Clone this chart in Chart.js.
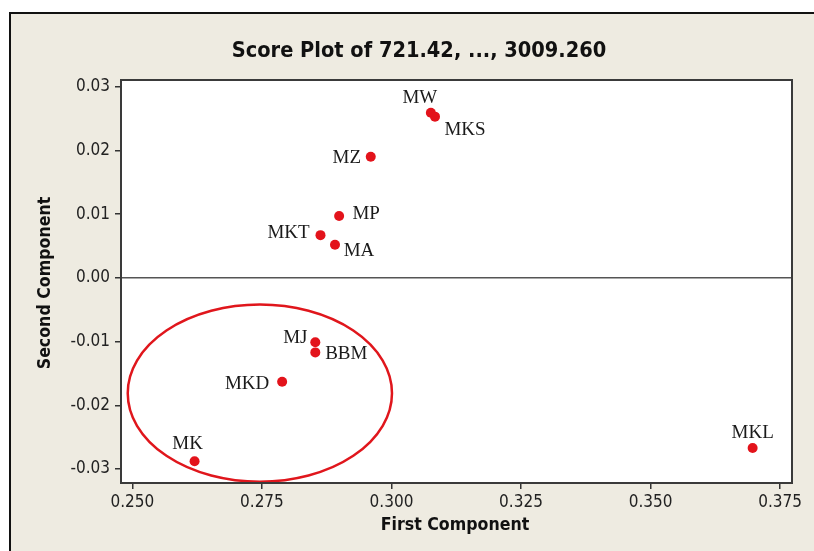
<!DOCTYPE html>
<html>
<head>
<meta charset="UTF-8">
<title>Score Plot</title>
<script src="https://cdn.jsdelivr.net/npm/chart.js"></script>
<style>
  html, body { margin: 0; padding: 0; background: #fff; }
  #wrap { width: 814px; height: 551px; }
</style>
</head>
<body>
<div id="wrap"><canvas id="scorePlot" width="814" height="551"></canvas></div>
<script>
  // scores
  const names = ['MW', 'MKS', 'MZ', 'MP', 'MKT', 'MA', 'MJ', 'BBM', 'MKD', 'MK', 'MKL'];
  const firstComp = [0.3076, 0.3084, 0.2960, 0.2899, 0.2863, 0.2891, 0.2853, 0.2853, 0.2789, 0.2620, 0.3697];
  const secondComp = [0.0259, 0.0253, 0.0190, 0.0097, 0.0067, 0.0052, -0.0101, -0.0117, -0.0163, -0.0288, -0.0267];
  const xTicks = [0.250, 0.275, 0.300, 0.325, 0.350, 0.375];
  const yTicks = [-0.03, -0.02, -0.01, 0.00, 0.01, 0.02, 0.03];

  // where each name sits around its dot (px)
  const labelOffset = {
    MW: [-11, -15], MKS: [30, 13], MZ: [-24, 1], MP: [27, -2], MKT: [-32, -2], MA: [24, 6],
    MJ: [-20, -4], BBM: [31, 2], MKD: [-35, 2], MK: [-7, -17], MKL: [0, -15]
  };

  // the hand-drawn circle around the lower group (data units)
  const circle = { x: 0.2746, y: -0.0181, rx: 0.0255, ry: 0.0139 };

  const pts = names.map(function (n, i) { return { x: firstComp[i], y: secondComp[i] }; });

  const tickFont = { family: '"DejaVu Sans Condensed", "DejaVu Sans", sans-serif', size: 17 };

  const decor = {
    id: 'decor',
    beforeDraw(chart) {
      const ctx = chart.ctx;
      const a = chart.chartArea;
      ctx.save();
      ctx.fillStyle = '#fff';
      ctx.fillRect(0, 0, 814, 551);
      ctx.fillStyle = '#eeebe1';
      ctx.fillRect(9, 12, 820, 560);
      ctx.strokeStyle = '#111';
      ctx.lineWidth = 2;
      ctx.beginPath();
      ctx.moveTo(10, 560); ctx.lineTo(10, 13); ctx.lineTo(820, 13);
      ctx.stroke();
      ctx.fillStyle = '#fff';
      ctx.fillRect(a.left, a.top, a.width, a.height);
      ctx.restore();
    },
    beforeDatasetsDraw(chart) {
      const ctx = chart.ctx;
      const a = chart.chartArea;
      const y0 = chart.scales.y.getPixelForValue(0);
      ctx.save();
      ctx.strokeStyle = '#555';
      ctx.lineWidth = 1.5;
      ctx.beginPath();
      ctx.moveTo(a.left, y0); ctx.lineTo(a.right, y0);
      ctx.stroke();
      ctx.restore();
    },
    afterDatasetsDraw(chart) {
      const ctx = chart.ctx;
      const a = chart.chartArea;
      const xs = chart.scales.x, ys = chart.scales.y;
      ctx.save();

      // circle
      const cx = xs.getPixelForValue(circle.x);
      const cy = ys.getPixelForValue(circle.y);
      const rx = xs.getPixelForValue(circle.x + circle.rx) - cx;
      const ry = cy - ys.getPixelForValue(circle.y + circle.ry);
      ctx.strokeStyle = '#e0161c';
      ctx.lineWidth = 2.5;
      ctx.beginPath();
      ctx.ellipse(cx, cy, rx, ry, 0, 0, Math.PI * 2);
      ctx.stroke();

      // frame of plot
      ctx.strokeStyle = '#3a3a3a';
      ctx.lineWidth = 2;
      ctx.strokeRect(a.left, a.top, a.width, a.height);

      // point names
      ctx.fillStyle = '#1a1a1a';
      ctx.font = '19px "Liberation Serif", serif';
      ctx.textAlign = 'center';
      ctx.textBaseline = 'middle';
      const meta = chart.getDatasetMeta(0);
      meta.data.forEach(function (el, i) {
        const off = labelOffset[names[i]];
        ctx.fillText(names[i], el.x + off[0], el.y + off[1]);
      });

      // titles
      ctx.fillStyle = '#111';
      ctx.font = 'bold 21.6px "DejaVu Sans Condensed", "DejaVu Sans", sans-serif';
      ctx.fillText('Score Plot of 721.42, ..., 3009.260', 419, 51);
      ctx.font = 'bold 17.6px "DejaVu Sans Condensed", "DejaVu Sans", sans-serif';
      ctx.fillText('First Component', 455, 525);
      ctx.translate(45, 283);
      ctx.rotate(-Math.PI / 2);
      ctx.fillText('Second Component', 0, 0);
      ctx.restore();
    }
  };

  new Chart(document.getElementById('scorePlot'), {
    type: 'scatter',
    data: {
      datasets: [{
        label: 'Scores',
        data: pts,
        pointRadius: 5,
        pointHoverRadius: 5,
        pointBackgroundColor: '#e3131b',
        pointBorderWidth: 0
      }]
    },
    options: {
      responsive: false,
      animation: false,
      devicePixelRatio: 1,
      layout: { padding: { top: 80, right: 22, left: 0, bottom: 0 } },
      plugins: { legend: { display: false }, title: { display: false }, tooltip: { enabled: false } },
      scales: {
        x: {
          type: 'linear',
          min: 0.2478,
          max: 0.3773,
          afterBuildTicks: function (s) { s.ticks = xTicks.map(function (v) { return { value: v }; }); },
          afterFit: function (s) { s.height = 68; },
          ticks: {
            callback: function (v) { return v.toFixed(3); },
            font: tickFont, color: '#222', padding: 3, maxRotation: 0, autoSkip: false
          },
          grid: { drawOnChartArea: false, tickLength: 6, color: '#333', lineWidth: 1.5 },
          border: { display: false }
        },
        y: {
          type: 'linear',
          min: -0.0322,
          max: 0.03105,
          afterBuildTicks: function (s) { s.ticks = yTicks.map(function (v) { return { value: v }; }); },
          afterFit: function (s) { s.width = 121; },
          ticks: {
            callback: function (v) { return v.toFixed(2); },
            font: tickFont, color: '#222', padding: 5, autoSkip: false
          },
          grid: { drawOnChartArea: false, tickLength: 6, color: '#333', lineWidth: 1.5 },
          border: { display: false }
        }
      }
    },
    plugins: [decor]
  });
</script>
</body>
</html>
